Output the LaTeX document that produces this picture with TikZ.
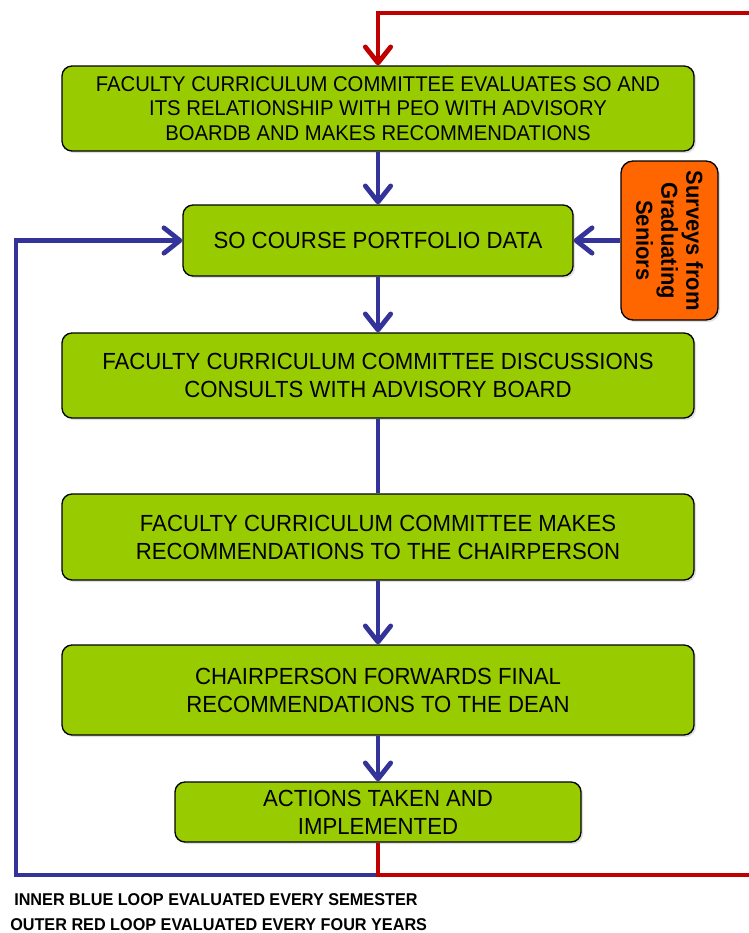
\documentclass[tikz,border=0pt]{standalone}
\usepackage{fontspec}
\setmainfont[FakeStretch=0.95]{Liberation Sans}
\usepackage{tikz}
\usetikzlibrary{arrows.meta,shadows}
\definecolor{boxgreen}{HTML}{99CC00}
\definecolor{survorange}{HTML}{FF6600}
\definecolor{loopblue}{HTML}{333399}
\definecolor{loopred}{HTML}{C00000}

\begin{document}
\begin{tikzpicture}[
 x=0.75pt,y=-0.75pt,
 stage/.style={draw=black,line width=1pt,rounded corners=7.5pt,fill=boxgreen,align=center,inner sep=2pt,
   font=\fontsize{17.5}{21}\selectfont,drop shadow={opacity=0.25,shadow xshift=1.5pt,shadow yshift=-1.5pt}},
 survey/.style={draw=black,line width=1pt,rounded corners=9pt,fill=survorange,align=center,inner sep=2pt,rotate=-90,
   font=\bfseries\fontsize{17.3}{18.75}\selectfont,drop shadow={opacity=0.25,shadow xshift=1.5pt,shadow yshift=-1.5pt}},
 tip/.style={-{Straight Barb[length=12pt,width=19pt,round]}},
 flow/.style={draw=loopblue,line width=3.6pt,tip},
 outer/.style={draw=loopred,line width=3.6pt},
 note/.style={anchor=west,inner sep=0pt,font=\bfseries\fontsize{12.8}{14}\selectfont},
]
\useasboundingbox (0,0) rectangle (749,933);

\node[stage,minimum width=474pt,minimum height=63.75pt,font=\fontsize{16}{18.4}\selectfont] (a) at (378,108.5)
  {FACULTY\ CURRICULUM\ COMMITTEE EVALUATES SO AND\\ ITS RELATIONSHIP WITH PEO\ WITH ADVISORY\\ BOARDB AND MAKES RECOMMENDATIONS};
\node[stage,minimum width=292.5pt,minimum height=53.25pt] (b) at (378,240.5) {SO COURSE PORTFOLIO DATA};
\node[survey,minimum width=119.25pt,minimum height=72.75pt] (s) at (669.5,240.5) {Surveys from\\ Graduating\\ Seniors};
\node[stage,minimum width=474pt,minimum height=63.75pt] (c) at (378,375.5)
  {FACULTY CURRICULUM COMMITTEE DISCUSSIONS\\ CONSULTS WITH ADVISORY BOARD};
\node[stage,minimum width=474pt,minimum height=64.5pt] (d) at (378,537)
  {FACULTY CURRICULUM COMMITTEE MAKES\\ RECOMMENDATIONS TO THE CHAIRPERSON};
\node[stage,minimum width=474pt,minimum height=67.5pt] (e) at (378,690)
  {CHAIRPERSON FORWARDS FINAL\\ RECOMMENDATIONS TO THE DEAN};
\node[stage,minimum width=304.5pt,minimum height=45pt] (f) at (378,812)
  {ACTIONS TAKEN AND\\ IMPLEMENTED};

% loop corners
\coordinate (j) at (378,875);
\coordinate (lb) at (16,875);
\coordinate (rb) at (760,875);
\coordinate (rt) at (760,13);

% inner loop and flow
\draw[flow] (a) -- (b);
\draw[flow] (b) -- (c);
\draw[draw=loopblue,line width=3.6pt] (c) -- (d);
\draw[flow] (d) -- (e);
\draw[flow] (e) -- (f);
\draw[flow] (s) -- (b);
\draw[flow] (j) -- (lb) |- (b.west);

% outer loop
\draw[outer,tip] (f.south) -- (j) -- (rb) -- (rt) -| (a.north);

\node[note] (n1) at (14,900) {INNER BLUE LOOP EVALUATED EVERY SEMESTER};
\node[note] (n2) at (10,925) {OUTER RED LOOP EVALUATED EVERY FOUR YEARS};
\end{tikzpicture}
\end{document}
